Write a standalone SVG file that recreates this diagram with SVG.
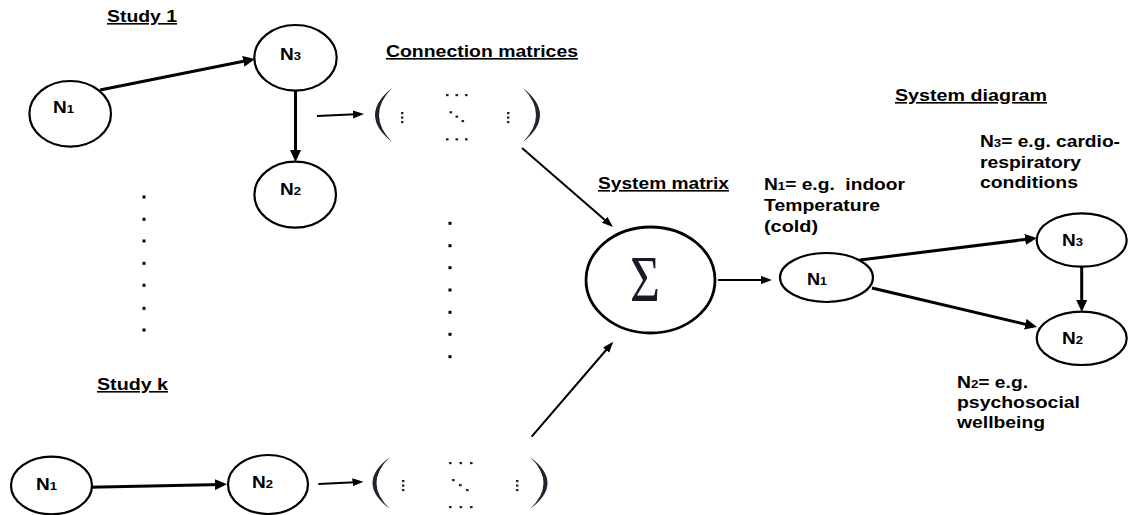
<svg xmlns="http://www.w3.org/2000/svg" width="1136" height="515" viewBox="0 0 1136 515">
<defs>
<style>
.t{font-family:"Liberation Sans",Arial,sans-serif;font-weight:bold;font-size:16px;fill:#000}
.u{text-decoration:underline}
.sub{font-size:11px}
.nd{fill:#fff;stroke:#000;stroke-width:2.2}
.e3{fill:none;stroke:#000;stroke-width:3}
.e2{fill:none;stroke:#000;stroke-width:2}
.mx{fill:#23232f}
.dot{fill:#000}
</style>
<marker id="ah3" markerUnits="userSpaceOnUse" markerWidth="13" markerHeight="11" refX="8" refY="5.5" orient="auto">
<path d="M0,0 L12,5.5 L0,11 Z" fill="#000"/>
</marker>
<marker id="ah2" markerUnits="userSpaceOnUse" markerWidth="12" markerHeight="9" refX="8" refY="4" orient="auto">
<path d="M0,0 L11,4 L0,8 Z" fill="#000"/>
</marker>
</defs>
<rect width="1136" height="515" fill="#fff"/>

<!-- titles -->
<g id="titles">
<text class="t u" x="107" y="22" textLength="70" lengthAdjust="spacingAndGlyphs">Study 1</text>
<text class="t u" x="386" y="57" textLength="192" lengthAdjust="spacingAndGlyphs">Connection matrices</text>
<text class="t u" x="598" y="189" textLength="131" lengthAdjust="spacingAndGlyphs">System matrix</text>
<text class="t u" x="895" y="101" textLength="152" lengthAdjust="spacingAndGlyphs">System diagram</text>
<text class="t u" x="97" y="390" textLength="71" lengthAdjust="spacingAndGlyphs">Study k</text>
</g>

<!-- connectors -->
<g id="connectors">
<line class="e3" x1="100" y1="90" x2="251.1" y2="59.8" marker-end="url(#ah3)"/>
<line class="e3" x1="295.5" y1="91" x2="295.5" y2="158" marker-end="url(#ah3)"/>
<line class="e2" x1="317" y1="116" x2="361" y2="114.1" marker-end="url(#ah2)"/>
<line class="e3" x1="89" y1="487.3" x2="223" y2="484.4" marker-end="url(#ah3)"/>
<line class="e2" x1="318.3" y1="484" x2="360.5" y2="481.9" marker-end="url(#ah2)"/>
<line class="e2" x1="522" y1="148" x2="610.7" y2="225" marker-end="url(#ah2)"/>
<line class="e2" x1="531.7" y1="436.7" x2="611.3" y2="344" marker-end="url(#ah2)"/>
<line class="e2" x1="718" y1="280" x2="769" y2="280" marker-end="url(#ah2)"/>
<line class="e3" x1="860" y1="260" x2="1033" y2="238.5" marker-end="url(#ah3)"/>
<line class="e3" x1="872" y1="288" x2="1033.1" y2="326.1" marker-end="url(#ah3)"/>
<line class="e3" x1="1081.7" y1="267" x2="1081.7" y2="308" marker-end="url(#ah3)"/>
</g>

<!-- Study 1 nodes -->
<g id="s1-n1">
<ellipse class="nd" cx="70.2" cy="113.8" rx="40.8" ry="32.8"/>
<text class="t" x="53" y="113" textLength="21" lengthAdjust="spacingAndGlyphs">N<tspan class="sub">1</tspan></text>
</g>
<g id="s1-n3">
<ellipse class="nd" cx="295.5" cy="57.8" rx="41.2" ry="32.8"/>
<text class="t" x="280" y="59.5" textLength="21" lengthAdjust="spacingAndGlyphs">N<tspan class="sub">3</tspan></text>
</g>
<g id="s1-n2">
<ellipse class="nd" cx="295.2" cy="194.7" rx="40.8" ry="33"/>
<text class="t" x="280" y="195" textLength="21" lengthAdjust="spacingAndGlyphs">N<tspan class="sub">2</tspan></text>
</g>

<!-- Study k nodes -->
<g id="sk-n1">
<ellipse class="nd" cx="51.5" cy="485.5" rx="40.5" ry="28.8"/>
<text class="t" x="36" y="490" textLength="21" lengthAdjust="spacingAndGlyphs">N<tspan class="sub">1</tspan></text>
</g>
<g id="sk-n2">
<ellipse class="nd" cx="268" cy="484.5" rx="40" ry="29.5"/>
<text class="t" x="252" y="488" textLength="21" lengthAdjust="spacingAndGlyphs">N<tspan class="sub">2</tspan></text>
</g>

<!-- vertical ellipsis dots -->
<g id="dots-left">
<rect class="dot" x="142.5" y="195.5" width="3" height="3"/>
<rect class="dot" x="142.5" y="217.8" width="3" height="3"/>
<rect class="dot" x="142.5" y="239.5" width="3" height="3"/>
<rect class="dot" x="142.5" y="261.8" width="3" height="3"/>
<rect class="dot" x="142.5" y="283.8" width="3" height="3"/>
<rect class="dot" x="142.5" y="306.8" width="3" height="3"/>
<rect class="dot" x="142.5" y="328.5" width="3" height="3"/>
</g>
<g id="dots-mid">
<rect class="dot" x="448.5" y="221.8" width="3" height="3"/>
<rect class="dot" x="448.5" y="244.2" width="3" height="3"/>
<rect class="dot" x="448.5" y="266.2" width="3" height="3"/>
<rect class="dot" x="448.5" y="288.5" width="3" height="3"/>
<rect class="dot" x="448.5" y="310.8" width="3" height="3"/>
<rect class="dot" x="448.5" y="332.8" width="3" height="3"/>
<rect class="dot" x="448.5" y="355.2" width="3" height="3"/>
</g>

<!-- connection matrix 1 -->
<g id="matrix-1">
<path class="mx" d="M392,88 Q358,115 392,142 Q366,115 392,88 Z"/>
<path class="mx" d="M523,88 Q557,115 523,142 Q549,115 523,88 Z"/>
<rect class="mx" x="401" y="112" width="2.4" height="2.2"/>
<rect class="mx" x="401" y="116.5" width="2.4" height="2.2"/>
<rect class="mx" x="401" y="121" width="2.4" height="2.2"/>
<rect class="mx" x="507" y="112" width="2.4" height="2.2"/>
<rect class="mx" x="507" y="116.5" width="2.4" height="2.2"/>
<rect class="mx" x="507" y="121" width="2.4" height="2.2"/>
<rect class="mx" x="446" y="94" width="2.6" height="2.2"/>
<rect class="mx" x="455.5" y="94" width="2.6" height="2.2"/>
<rect class="mx" x="465" y="94" width="2.6" height="2.2"/>
<rect class="mx" x="446" y="138.2" width="2.6" height="2.2"/>
<rect class="mx" x="455.5" y="138.2" width="2.6" height="2.2"/>
<rect class="mx" x="465" y="138.2" width="2.6" height="2.2"/>
<rect class="mx" x="449.5" y="111.2" width="2.6" height="2.2"/>
<rect class="mx" x="455.5" y="115.6" width="2.6" height="2.2"/>
<rect class="mx" x="461.5" y="120" width="2.6" height="2.2"/>
</g>

<!-- connection matrix k -->
<g id="matrix-k">
<path class="mx" d="M390,457 Q355,483 390,509 Q363,483 390,457 Z"/>
<path class="mx" d="M530,457 Q565,483 530,509 Q557,483 530,457 Z"/>
<rect class="mx" x="402" y="480" width="2.4" height="2.2"/>
<rect class="mx" x="402" y="484.5" width="2.4" height="2.2"/>
<rect class="mx" x="402" y="489" width="2.4" height="2.2"/>
<rect class="mx" x="516" y="480" width="2.4" height="2.2"/>
<rect class="mx" x="516" y="484.5" width="2.4" height="2.2"/>
<rect class="mx" x="516" y="489" width="2.4" height="2.2"/>
<rect class="mx" x="449" y="462" width="2.6" height="2.2"/>
<rect class="mx" x="459.5" y="462" width="2.6" height="2.2"/>
<rect class="mx" x="470" y="462" width="2.6" height="2.2"/>
<rect class="mx" x="449" y="506" width="2.6" height="2.2"/>
<rect class="mx" x="459.5" y="506" width="2.6" height="2.2"/>
<rect class="mx" x="470" y="506" width="2.6" height="2.2"/>
<rect class="mx" x="452" y="479" width="2.6" height="2.2"/>
<rect class="mx" x="459" y="484" width="2.6" height="2.2"/>
<rect class="mx" x="466" y="489" width="2.6" height="2.2"/>
</g>

<!-- system matrix -->
<g id="sigma">
<ellipse cx="650.5" cy="280" rx="64.5" ry="53" fill="#fff" stroke="#000" stroke-width="2.8"/>
<text transform="translate(645,300.5) scale(0.78,1)" text-anchor="middle" font-family="Liberation Serif,'Times New Roman',serif" font-size="66" fill="#1a1a24">Σ</text>
</g>

<!-- system diagram -->
<g id="sys-n1">
<ellipse class="nd" cx="826.5" cy="277.5" rx="46.5" ry="24.5"/>
<text class="t" x="807" y="285" textLength="20" lengthAdjust="spacingAndGlyphs">N<tspan class="sub">1</tspan></text>
</g>
<g id="sys-n3">
<ellipse class="nd" cx="1081.7" cy="240" rx="45" ry="26.7"/>
<text class="t" x="1062" y="246" textLength="21" lengthAdjust="spacingAndGlyphs">N<tspan class="sub">3</tspan></text>
</g>
<g id="sys-n2">
<ellipse class="nd" cx="1081.7" cy="338.3" rx="45" ry="26.7"/>
<text class="t" x="1062" y="343.5" textLength="21" lengthAdjust="spacingAndGlyphs">N<tspan class="sub">2</tspan></text>
</g>

<!-- annotations -->
<g id="note-n1">
<text class="t" x="764" y="190" textLength="141" lengthAdjust="spacingAndGlyphs" xml:space="preserve">N<tspan class="sub">1</tspan>= e.g.  indoor</text>
<text class="t" x="764" y="211" textLength="116" lengthAdjust="spacingAndGlyphs">Temperature</text>
<text class="t" x="764" y="232" textLength="54" lengthAdjust="spacingAndGlyphs">(cold)</text>
</g>
<g id="note-n3">
<text class="t" x="980" y="147" textLength="140" lengthAdjust="spacingAndGlyphs">N<tspan class="sub">3</tspan>= e.g. cardio-</text>
<text class="t" x="980" y="167.5" textLength="101" lengthAdjust="spacingAndGlyphs">respiratory</text>
<text class="t" x="980" y="188" textLength="98" lengthAdjust="spacingAndGlyphs">conditions</text>
</g>
<g id="note-n2">
<text class="t" x="957" y="388" textLength="71" lengthAdjust="spacingAndGlyphs">N<tspan class="sub">2</tspan>= e.g.</text>
<text class="t" x="957" y="408" textLength="123" lengthAdjust="spacingAndGlyphs">psychosocial</text>
<text class="t" x="957" y="428" textLength="88" lengthAdjust="spacingAndGlyphs">wellbeing</text>
</g>
</svg>
